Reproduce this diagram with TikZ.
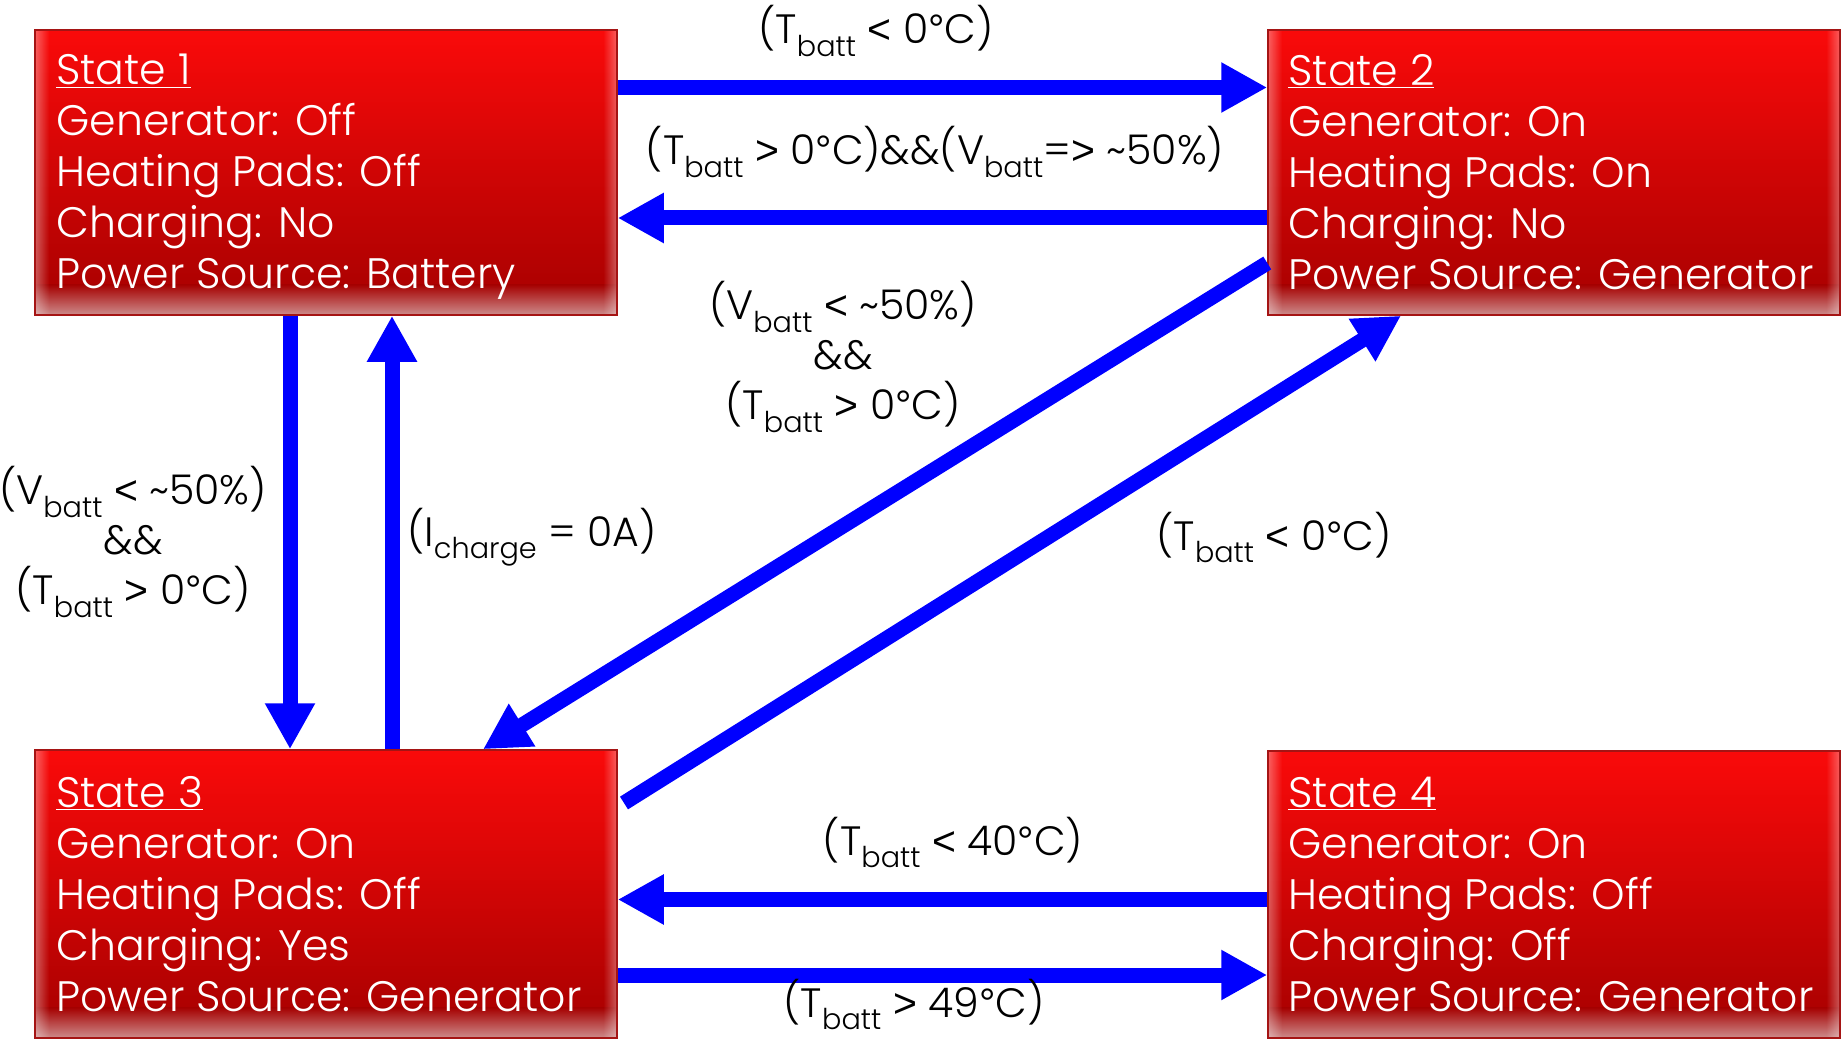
\documentclass[tikz,border=0pt]{standalone}
\usepackage{fontspec}
\setmainfont{Poppins}[UprightFont=* Light]
\newfontfamily\symf{Liberation Sans}
\usetikzlibrary{arrows.meta,fadings,calc}
\definecolor{arrowblue}{RGB}{0,0,255}
\definecolor{rtop}{RGB}{250,10,10}
\definecolor{rbot}{RGB}{165,0,0}
\definecolor{rpink}{RGB}{205,140,140}
\definecolor{rborder}{RGB}{165,20,20}
\newcommand\subx[1]{\textsubscript{#1}}
\newcommand\tld{\textasciitilde}
\newcommand\ltx{{\symf<}}
\newcommand\gtx{{\symf>}}
\newcommand\degx{{\symf°}}
\newcommand\boxfont{\fontsize{42.6}{51}\selectfont}
\newcommand\lblfont{\fontsize{41}{50}\selectfont}
\begin{document}
\begin{tikzpicture}[x=1pt,y=-1pt,
  statebox/.style={rectangle, draw=rborder, line width=1.5pt, inner sep=0pt,
    path picture={
      \fill[top color=rtop, bottom color=rbot] (path picture bounding box.north west) rectangle ([yshift=30pt]path picture bounding box.south east);
      \fill[top color=rbot, bottom color=rpink] ([yshift=30.5pt]path picture bounding box.south west) rectangle (path picture bounding box.south east);
      \fill[white, opacity=.35, path fading=east] (path picture bounding box.north west) rectangle ([xshift=14pt]path picture bounding box.south west);
      \fill[white, opacity=.35, path fading=west] ([xshift=-14pt]path picture bounding box.north east) rectangle (path picture bounding box.south east);
    }},
  boxtext/.style={anchor=north west, inner sep=0pt, align=left, text=white, font=\boxfont},
  lbl/.style={inner sep=0pt, text=black, font=\lblfont, align=center},
  conn/.style={draw=arrowblue, line width=15pt, -{Triangle[width=47pt,length=46pt]}}
]
\useasboundingbox (0,0) rectangle (1843,1040);

\node[statebox, minimum width=582pt, minimum height=285pt] (s1) at (326,172.5) {};
\node[statebox, minimum width=572pt, minimum height=285pt] (s2) at (1554,172.5) {};
\node[statebox, minimum width=582pt, minimum height=288pt] (s3) at (326,894) {};
\node[statebox, minimum width=572pt, minimum height=287pt] (s4) at (1554,894.5) {};

\node[boxtext] (t1) at ([xshift=22pt,yshift=-25pt]s1.north west) {\underline{State 1}\\Generator: Off\\Heating Pads: Off\\Charging: No\\Power Source: Battery};
\node[boxtext] (t2) at ([xshift=21pt,yshift=-25pt]s2.north west) {\underline{State 2}\\Generator: On\\Heating Pads: On\\Charging: No\\Power Source: Generator};
\node[boxtext] (t3) at ([xshift=22pt,yshift=-27pt]s3.north west) {\underline{State 3}\\Generator: On\\Heating Pads: Off\\Charging: Yes\\Power Source: Generator};
\node[boxtext] (t4) at ([xshift=21pt,yshift=-27pt]s4.north west) {\underline{State 4}\\Generator: On\\Heating Pads: Off\\Charging: Off\\Power Source: Generator};

% connectors
\draw[conn] (s1.east |- 0,87.5) -- (s2.west |- 0,87.5);
\draw[conn] (s2.west |- 0,218) -- (s1.east |- 0,218);
\draw[conn] (s1.south -| 290,0) -- (s3.north -| 290,0);
\draw[conn] (s3.north -| 392,0) -- (s1.south -| 392,0);
\coordinate (d23a) at (s2.west |- 0,263);
\coordinate (d23b) at (s3.north -| 483,0);
\draw[conn] (d23a) -- (d23b);
\coordinate (d32a) at (624,803);
\coordinate (d32b) at (s2.south -| 1401,0);
\draw[conn] (d32a) -- (d32b);
\draw[conn] (s4.west |- 0,899.5) -- (s3.east |- 0,899.5);
\draw[conn] (s3.east |- 0,975) -- (s4.west |- 0,975);

% labels
\node[lbl, anchor=base] (l1) at (876,44) {(T\subx{batt} \ltx{} 0\degx C)};
\node[lbl, anchor=base] (l2) at (935,165) {(T\subx{batt} \gtx{} 0\degx C)\&\&(V\subx{batt}=\gtx{} \tld 50\%)};
\node[lbl] (l3) at (843,357) {(V\subx{batt} \ltx{} \tld 50\%)\\\&\&\\(T\subx{batt} \gtx{} 0\degx C)};
\node[lbl, anchor=base] (l4) at (1274,550) {(T\subx{batt} \ltx{} 0\degx C)};
\node[lbl] (l5) at (133,542) {(V\subx{batt} \ltx{} \tld 50\%)\\\&\&\\(T\subx{batt} \gtx{} 0\degx C)};
\node[lbl, anchor=base] (l6) at (532,546) {(I\subx{charge} = 0A)};
\node[lbl, anchor=base] (l7) at (953,855) {(T\subx{batt} \ltx{} 40\degx C)};
\node[lbl, anchor=base] (l8) at (914,1017) {(T\subx{batt} \gtx{} 49\degx C)};
\end{tikzpicture}
\end{document}
